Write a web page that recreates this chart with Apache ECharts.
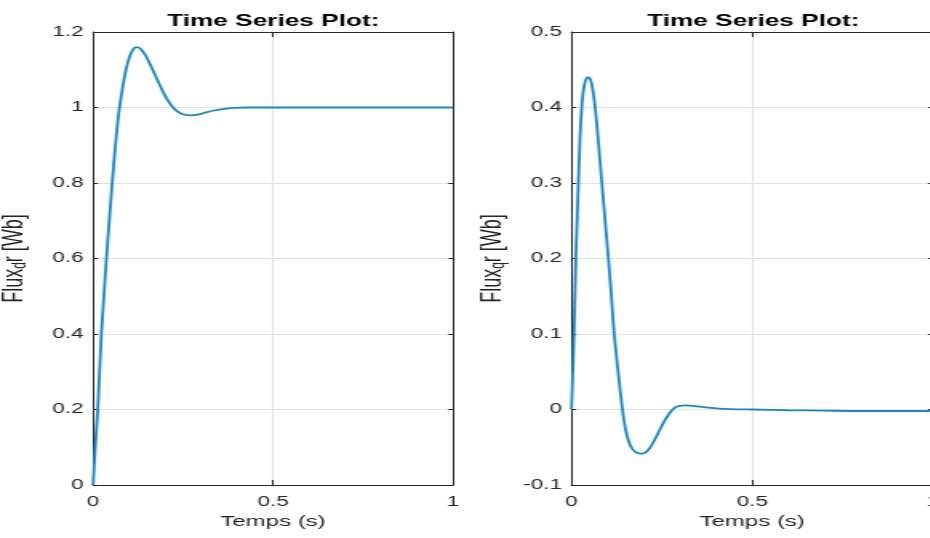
<!DOCTYPE html>
<html>
<head>
<meta charset="utf-8">
<script src="https://cdn.jsdelivr.net/npm/echarts@6/dist/echarts.min.js"></script>
<style>
  html, body { margin: 0; padding: 0; background: #fff; overflow: hidden; width: 930px; height: 538px; }
  #chart { width: 582px; height: 538px; transform: scaleX(1.6); transform-origin: 0 0; }
</style>
</head>
<body>
<div id="chart"></div>
<script>
// ---- data ----
var xTicks = [0, 0.5, 1];
var yTicksD = [0, 0.2, 0.4, 0.6, 0.8, 1, 1.2];
var yTicksQ = [-0.1, 0, 0.1, 0.2, 0.3, 0.4, 0.5];

var timeD = [0,0.006,0.013,0.023,0.03,0.037,0.045,0.053,0.062,0.07,0.078,0.087,0.096,0.105,0.113,0.12,0.13,0.145,0.158,0.171,0.184,0.196,0.209,0.222,0.235,0.25,0.27,0.29,0.31,0.335,0.36,0.39,0.43,0.5,0.6,0.7,0.8,0.9,1.0];
var fluxD = [0,0.1,0.2,0.4,0.5,0.6,0.7,0.8,0.9,0.975,1.03,1.08,1.118,1.143,1.156,1.16,1.157,1.139,1.115,1.089,1.062,1.038,1.017,1.0,0.989,0.982,0.979,0.981,0.986,0.992,0.996,0.999,1.0,1.0,1.0,1.0,1.0,1.0,1.0];

var timeQ = [0,0.003,0.007,0.012,0.019,0.024,0.029,0.034,0.039,0.043,0.047,0.051,0.055,0.06,0.065,0.07,0.076,0.084,0.093,0.102,0.11,0.118,0.13,0.141,0.149,0.158,0.168,0.18,0.192,0.2,0.208,0.218,0.23,0.243,0.256,0.268,0.278,0.288,0.3,0.315,0.328,0.345,0.37,0.4,0.44,0.5,0.6,0.7,0.8,0.9,1.0];
var fluxQ = [0,0.04,0.1,0.2,0.3,0.365,0.405,0.426,0.436,0.4395,0.44,0.4385,0.433,0.42,0.402,0.378,0.345,0.3,0.25,0.2,0.152,0.1,0.045,0,-0.025,-0.042,-0.052,-0.057,-0.0585,-0.058,-0.0555,-0.05,-0.04,-0.028,-0.016,-0.007,-0.001,0.003,0.0048,0.0055,0.0052,0.0042,0.0028,0.0015,0.0006,0,-0.001,-0.0015,-0.002,-0.002,-0.002];

var titles = ['Time Series Plot:', 'Time Series Plot:'];
var xName = 'Temps (s)';
var yNames = ['Flux{sub|d}r [Wb]', 'Flux{sub|q}r [Wb]'];

function pairs(t, v) { return t.map(function (x, i) { return [x, v[i]]; }); }

var AX = '#262626';
var GRIDC = '#e2e2e2';
var FONT = '"Liberation Sans", Arial, Helvetica, sans-serif';
var LINE = '#1f86c2';

var grids = [
  { left: 58.2, top: 32, width: 225, height: 453, outerBoundsMode: 'none', containLabel: false },
  { left: 357.2, top: 32, width: 226, height: 453, outerBoundsMode: 'none', containLabel: false }
];

function xAxes(gi, ticks) {
  var mn = ticks[0], mx = ticks[ticks.length - 1], iv = ticks[1] - ticks[0];
  return [{
    type: 'value', gridIndex: gi, position: 'bottom', min: mn, max: mx, interval: iv,
    axisLine: { show: true, onZero: false, lineStyle: { color: AX, width: 1 } },
    axisTick: { show: true, inside: true, length: 5, lineStyle: { color: AX, width: 1 } },
    axisLabel: { show: true, color: AX, fontSize: 14, fontFamily: FONT, margin: 10 },
    splitLine: { show: true, lineStyle: { color: GRIDC, width: 1 } },
    name: xName, nameLocation: 'middle', nameGap: 23,
    nameTextStyle: { color: AX, fontSize: 15, fontFamily: FONT }
  }, {
    type: 'value', gridIndex: gi, position: 'top', min: mn, max: mx, interval: iv,
    axisLine: { show: true, onZero: false, lineStyle: { color: AX, width: 1 } },
    axisTick: { show: true, inside: true, length: 5, lineStyle: { color: AX, width: 1 } },
    axisLabel: { show: false }, splitLine: { show: false }
  }];
}

function yAxes(gi, ticks, name) {
  var mn = ticks[0], mx = ticks[ticks.length - 1], iv = Math.round((ticks[1] - ticks[0]) * 1000) / 1000;
  return [{
    type: 'value', gridIndex: gi, position: 'left', min: mn, max: mx, interval: iv,
    axisLine: { show: true, onZero: false, lineStyle: { color: AX, width: 1 } },
    axisTick: { show: true, inside: true, length: 3, lineStyle: { color: AX, width: 1 } },
    axisLabel: { show: true, color: AX, fontSize: 14, fontFamily: FONT, margin: 6 },
    splitLine: { show: true, lineStyle: { color: GRIDC, width: 1 } },
    name: name, nameLocation: 'middle', nameGap: 40, nameRotate: 90,
    nameTextStyle: {
      color: AX, fontSize: 18, fontFamily: FONT,
      rich: {
        sub: { fontSize: 12, fontFamily: FONT, color: AX, verticalAlign: 'bottom', lineHeight: 12 }
      }
    }
  }, {
    type: 'value', gridIndex: gi, position: 'right', min: mn, max: mx, interval: iv,
    axisLine: { show: true, onZero: false, lineStyle: { color: AX, width: 1 } },
    axisTick: { show: true, inside: true, length: 3, lineStyle: { color: AX, width: 1 } },
    axisLabel: { show: false }, splitLine: { show: false }
  }];
}

var chart = echarts.init(document.getElementById('chart'), null, { renderer: 'canvas' });
chart.setOption({
  animation: false,
  backgroundColor: '#ffffff',
  title: [
    { text: titles[0], left: 165.8, top: 8, textAlign: 'center',
      textStyle: { fontSize: 16.4, fontWeight: 'bold', color: '#000', fontFamily: FONT } },
    { text: titles[1], left: 465.8, top: 8, textAlign: 'center',
      textStyle: { fontSize: 16.4, fontWeight: 'bold', color: '#000', fontFamily: FONT } }
  ],
  grid: grids,
  xAxis: xAxes(0, xTicks).concat(xAxes(1, xTicks)),
  yAxis: yAxes(0, yTicksD, yNames[0]).concat(yAxes(1, yTicksQ, yNames[1])),
  series: [
    { type: 'line', xAxisIndex: 0, yAxisIndex: 0, data: pairs(timeD, fluxD), showSymbol: false,
      smooth: 0.2, lineStyle: { color: LINE, width: 1.8 } },
    { type: 'line', xAxisIndex: 2, yAxisIndex: 2, data: pairs(timeQ, fluxQ), showSymbol: false,
      smooth: 0.2, lineStyle: { color: LINE, width: 1.8 } }
  ]
});
</script>
</body>
</html>
